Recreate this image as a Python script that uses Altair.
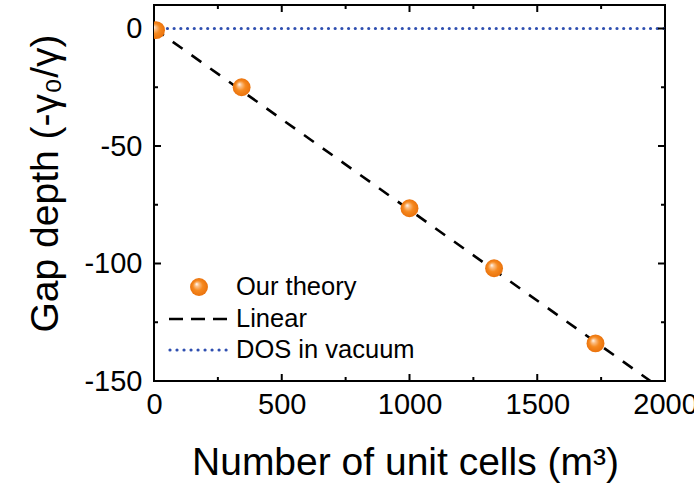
import altair as alt
import pandas as pd

# Gap depth versus number of unit cells (m^3 for m = 2, 7, 10, 11, 12)
cells = [8, 343, 1000, 1331, 1728]
depth = [-0.7, -25, -76.5, -102, -134]

# linear fit through the origin
fit_x = [0, 1943]
fit_y = [0, -150]

# density of states in vacuum (no gap)
vac_x = [0, 2000]
vac_y = [0, 0]

x_major = [0, 500, 1000, 1500, 2000]
x_minor = [250, 750, 1250, 1750]
y_major = [0, -50, -100, -150]
y_minor = [-25, -75, -125]

legend_labels = ["Our theory", "Linear", "DOS in vacuum"]

W, H = 511, 376
FONT = "Liberation Sans"
ORANGE = "#f47d17"
BLUE = "#2f4fb0"

xs = alt.Scale(domain=[0, 2000], nice=False, zero=False)
ys = alt.Scale(domain=[-150, 10], nice=False, zero=False)

sphere = alt.RadialGradient(
    gradient="radial",
    x1=0.36, y1=0.33, r1=0.0,
    x2=0.5, y2=0.5, r2=0.5,
    stops=[
        alt.GradientStop(offset=0.0, color="#ffffff"),
        alt.GradientStop(offset=0.22, color="#fbc089"),
        alt.GradientStop(offset=0.55, color="#f6891f"),
        alt.GradientStop(offset=1.0, color="#ea720c"),
    ],
)

x_axis = alt.Axis(
    values=x_major, ticks=False, domain=False, grid=False,
    labelExpr="'' + datum.value", labelFlush=False, labelOverlap=False,
    labelFont=FONT, labelFontSize=29, labelColor="black", labelPadding=9,
    title="Number of unit cells (m³)", titleFont=FONT, titleFontSize=39,
    titleFontWeight="normal", titleColor="black",
    titleX=251, titleY=93, titleBaseline="alphabetic", titleAlign="center",
)
y_axis = alt.Axis(
    values=y_major, ticks=False, domain=False, grid=False,
    labelExpr="'' + datum.value", labelOverlap=False,
    labelFont=FONT, labelFontSize=29, labelColor="black", labelPadding=12,
    labelBaseline="middle",
    title="Gap depth (-γ₀/γ)", titleFont=FONT, titleFontSize=39,
    titleFontWeight="normal", titleColor="black",
    titleX=-97, titleY=178, titleBaseline="alphabetic", titleAlign="center",
)


def X(field):
    return alt.X(f"{field}:Q", scale=xs, axis=x_axis)


def Y(field):
    return alt.Y(f"{field}:Q", scale=ys, axis=y_axis)


vac_df = pd.DataFrame({"n": vac_x, "g": vac_y})
fit_df = pd.DataFrame({"n": fit_x, "g": fit_y})
pts_df = pd.DataFrame({"n": cells, "g": depth})

vacuum = alt.Chart(vac_df).mark_line(
    color=BLUE, strokeWidth=3.2, strokeDash=[0.01, 6.7], strokeCap="round", clip=True
).encode(x=X("n"), y=Y("g"))

fit = alt.Chart(fit_df).mark_line(
    color="black", strokeWidth=2.6, strokeDash=[12, 11], clip=True
).encode(x=X("n"), y=Y("g"))

points = alt.Chart(pts_df).mark_circle(
    fill=sphere, opacity=1, size=320, clip=True
).encode(x=X("n"), y=Y("g"))


def ticks_x(values, length):
    df = pd.DataFrame({"n": values})
    bottom = alt.Chart(df).mark_rule(color="black", strokeWidth=2).encode(
        x=X("n"), y=alt.value(H), y2=alt.value(H - length)
    )
    top = alt.Chart(df).mark_rule(color="black", strokeWidth=2).encode(
        x=X("n"), y=alt.value(0), y2=alt.value(length)
    )
    return [bottom, top]


def ticks_y(values, length):
    df = pd.DataFrame({"g": values})
    left = alt.Chart(df).mark_rule(color="black", strokeWidth=2).encode(
        y=Y("g"), x=alt.value(0), x2=alt.value(length)
    )
    right = alt.Chart(df).mark_rule(color="black", strokeWidth=2).encode(
        y=Y("g"), x=alt.value(W), x2=alt.value(W - length)
    )
    return [left, right]


tick_layers = ticks_x(x_major, 7) + ticks_x(x_minor, 4) + ticks_y(y_major, 7) + ticks_y(y_minor, 4)

# legend, drawn in the lower left of the plot area
leg_df = pd.DataFrame({"label": legend_labels})
leg_rows = [282, 314, 345]
leg_text_x = 82

leg_dot = alt.Chart(leg_df.iloc[[0]]).mark_circle(fill=sphere, opacity=1, size=320).encode(
    x=alt.value(45), y=alt.value(leg_rows[0])
)
leg_dash = alt.Chart(leg_df.iloc[[1]]).mark_rule(
    color="black", strokeWidth=2.6, strokeDash=[14, 8]
).encode(x=alt.value(15), x2=alt.value(74), y=alt.value(leg_rows[1]))
leg_dots = alt.Chart(leg_df.iloc[[2]]).mark_rule(
    color=BLUE, strokeWidth=3.2, strokeDash=[0.01, 7], strokeCap="round"
).encode(x=alt.value(16), x2=alt.value(73), y=alt.value(leg_rows[2]))

leg_texts = [
    alt.Chart(leg_df.iloc[[i]]).mark_text(
        align="left", baseline="middle", font=FONT, fontSize=25.5, color="black"
    ).encode(x=alt.value(leg_text_x), y=alt.value(leg_rows[i]), text="label:N")
    for i in range(3)
]

chart = alt.layer(
    vacuum, fit, *tick_layers, points, leg_dot, leg_dash, leg_dots, *leg_texts
).properties(
    width=W, height=H,
    autosize=alt.AutoSizeParams(type="none"),
    padding={"left": 154, "top": 5, "right": 29, "bottom": 105},
    background="white",
).configure_view(stroke="black", strokeWidth=2)

chart.save("out.html", embed_options={"renderer": "svg", "actions": False})
